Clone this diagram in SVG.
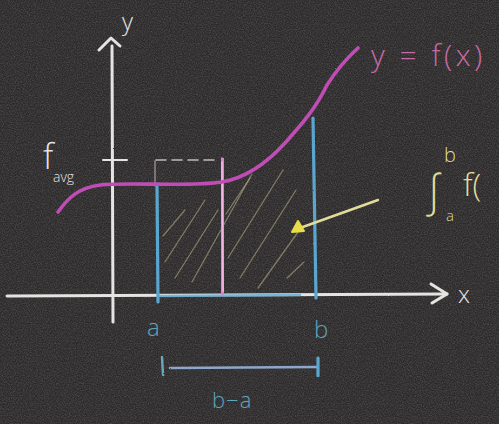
<svg xmlns="http://www.w3.org/2000/svg" width="499" height="424" viewBox="0 0 499 424">
  <defs>
    <filter id="grain" x="0" y="0" width="100%" height="100%">
      <feTurbulence type="fractalNoise" baseFrequency="0.85" numOctaves="2" seed="7"/>
      <feColorMatrix values="0 0 0 0 0.75  0 0 0 0 0.73  0 0 0 0 0.72  0.35 0 0 0 -0.12"/>
    </filter>
    <filter id="chalk" x="-5%" y="-5%" width="110%" height="110%">
      <feTurbulence type="fractalNoise" baseFrequency="0.6" numOctaves="1" seed="2" result="n"/>
      <feDisplacementMap in="SourceGraphic" in2="n" scale="1.6"/>
    </filter>
    <style>
      .chalk { fill: none; stroke-linecap: round; stroke-linejoin: round; }
      .white { stroke: #e6e4e2; }
      .blue { stroke: #5aa6cf; }
      .mag { stroke: #bf4db5; }
      .hatch { stroke: #bdb58e; stroke-width: 1.3; opacity: 0.55; }
      .t { font-family: "Open Sans", "Liberation Sans", sans-serif; font-weight: 300; }
    </style>
  </defs>

  <rect x="0" y="0" width="499" height="424" fill="#2c2a2a"/>
  <rect x="0" y="0" width="499" height="424" filter="url(#grain)"/>

  <g id="hatching" class="chalk">
    <line class="hatch" x1="163" y1="236" x2="185" y2="210"/>
    <line class="hatch" x1="165" y1="262" x2="205" y2="200"/>
    <line class="hatch" x1="175" y1="278" x2="218" y2="210"/>
    <line class="hatch" x1="192" y1="282" x2="252" y2="174"/>
    <line class="hatch" x1="228" y1="258" x2="283" y2="170"/>
    <line class="hatch" x1="240" y1="278" x2="296" y2="190"/>
    <line class="hatch" x1="258" y1="288" x2="298" y2="232"/>
    <line class="hatch" x1="287" y1="278" x2="304" y2="262"/>
    <line class="hatch" x1="226" y1="214" x2="250" y2="178"/>
  </g>

  <g id="axes" class="chalk white" filter="url(#chalk)">
    <line x1="112" y1="46" x2="113" y2="322" stroke-width="3"/>
    <path d="M99,50 L111,38 L120,46" stroke-width="3"/>
    <line x1="7" y1="296" x2="447" y2="294" stroke-width="3"/>
    <path d="M431,284 L447,294 L432,303" stroke-width="3"/>
    <line x1="103" y1="160" x2="127" y2="160" stroke-width="2"/>
  </g>

  <g id="dashed-rect" class="chalk" stroke="#d8d4d2" stroke-width="1.6" opacity="0.85">
    <line x1="156" y1="160" x2="220" y2="160" stroke-dasharray="10 6"/>
    <line x1="155" y1="161" x2="155" y2="186" opacity="0.6"/>
  </g>

  <g id="blue-lines" class="chalk blue" filter="url(#chalk)">
    <line x1="157" y1="184" x2="158" y2="302" stroke-width="3.2"/>
    <line x1="313" y1="118" x2="316" y2="298" stroke-width="3.2"/>
    <line x1="158" y1="296" x2="300" y2="295" stroke-width="2.6" opacity="0.75"/>
  </g>

  <g id="mean-line" class="chalk" filter="url(#chalk)">
    <line x1="222" y1="160" x2="223" y2="293" stroke="#e27fd2" stroke-width="5"/>
    <line x1="222" y1="162" x2="223" y2="291" stroke="#f2b6e6" stroke-width="1.6"/>
  </g>

  <g id="curve" class="chalk mag" filter="url(#chalk)">
    <path d="M58,212 C68,198 78,188 100,185 C130,182 190,187 222,182 C245,178 265,165 285,143 C300,126 315,110 327,85 C338,68 348,57 358,48" stroke-width="3.6"/>
  </g>

  <g id="arrow" class="chalk" filter="url(#chalk)">
    <line x1="378" y1="200" x2="300" y2="228" stroke="#e2dc9a" stroke-width="2.4"/>
    <path d="M292,232 L298,221 L304,231 Z" fill="#e8dc4a" stroke="#e8dc4a" stroke-width="2"/>
  </g>

  <g id="bracket" class="chalk" filter="url(#chalk)">
    <line x1="162" y1="357" x2="163" y2="375" stroke="#6aa8c0" stroke-width="2.4"/>
    <line x1="170" y1="368" x2="317" y2="367" stroke="#8ea8cc" stroke-width="2.6"/>
    <line x1="318" y1="358" x2="318" y2="376" stroke="#5aa6cf" stroke-width="3.2"/>
  </g>

  <g id="labels" class="t">
    <text x="122" y="30" font-size="24" fill="#e6e4e2">y</text>
    <text x="458" y="303" font-size="24" fill="#e6e4e2">x</text>
    <text x="43" y="169" font-size="34" fill="#e6e4e2">f</text>
    <text x="53" y="182" font-size="14" fill="#e6e4e2">avg</text>
    <text x="371" y="66" font-size="30" fill="#c56aa6" letter-spacing="3.5">y = f(x)</text>
    <text x="426" y="206" font-size="44" fill="#e2dc9a">∫</text>
    <text x="444" y="162" font-size="20" fill="#e2dc9a">b</text>
    <text x="446" y="221" font-size="15" fill="#e2dc9a">a</text>
    <text x="463" y="196" font-size="32" fill="#e2dc9a">f(</text>
    <text x="147" y="336" font-size="24" fill="#5fa4bd">a</text>
    <text x="314" y="338" font-size="24" fill="#5fa4bd">b</text>
    <text x="212" y="408" font-size="22" fill="#5fa4bd" letter-spacing="1">b−a</text>
  </g>
</svg>
